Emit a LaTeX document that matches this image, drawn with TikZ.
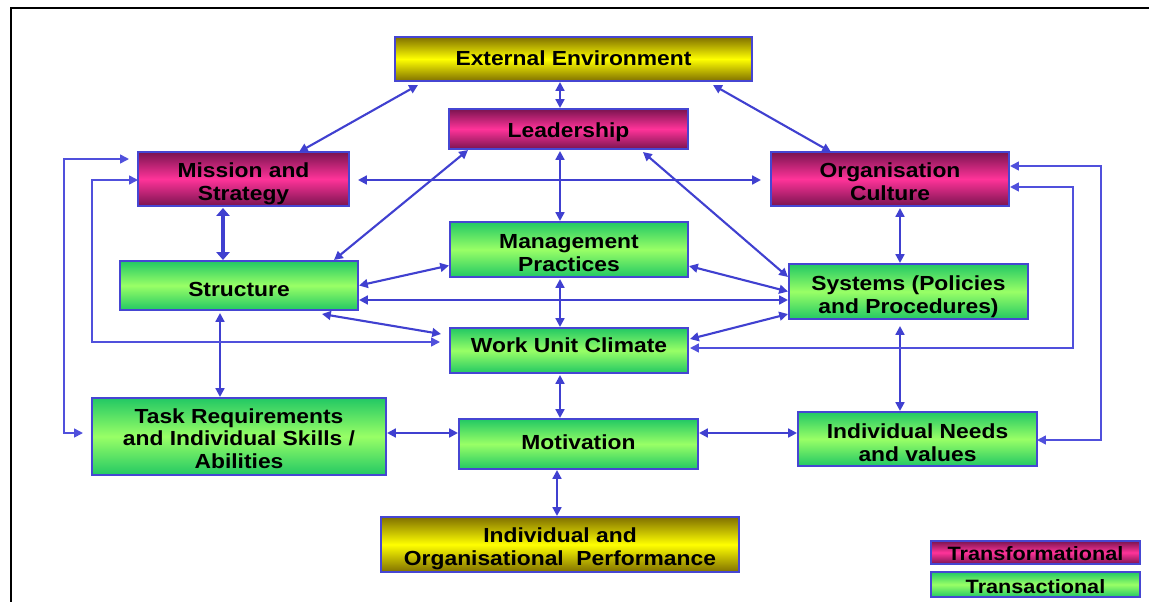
\documentclass[tikz,border=0pt]{standalone}
\usepackage{fontspec}
\newfontfamily\labfont[FakeStretch=1.12]{Liberation Sans}
\usetikzlibrary{arrows.meta,calc}
\definecolor{ablue}{RGB}{64,64,208}
\definecolor{fblue}{RGB}{80,80,220}
\definecolor{bborder}{RGB}{70,70,210}
\definecolor{magdark}{RGB}{122,20,80}
\definecolor{magmid}{RGB}{255,51,153}
\definecolor{grndark}{RGB}{34,200,100}
\definecolor{grnmid}{RGB}{153,255,102}
\definecolor{yeldark}{RGB}{128,112,0}
\definecolor{yelmid}{RGB}{255,255,0}
\tikzset{
  box/.style={draw=bborder, line width=0.7pt, inner sep=0pt, outer sep=0pt, align=center,
    font={\labfont\bfseries\fontsize{11.6}{12.9}\selectfont}, text=black},
  tf/.style={box, top color=magdark, bottom color=magdark, middle color=magmid},
  tr/.style={box, top color=grndark, bottom color=grndark, middle color=grnmid},
  yel/.style={box, top color=yeldark, bottom color=yeldark, middle color=yelmid},
  legfont/.style={font={\labfont\bfseries\fontsize{11}{12}\selectfont}},
  arr/.style={draw=ablue, line width=1.2pt, <->, >={Triangle[length=5pt,width=5pt]}},
  thickarr/.style={arr, line width=1.8pt, >={Triangle[length=4.5pt,width=7.5pt]}},
  fb/.style={draw=fblue, line width=0.9pt, <->, >={Triangle[length=5pt,width=5pt]}},
  frame/.style={draw=black, line width=1.2pt}
}
% name, style, x1, y1, x2, y2, number of lines, vertical text offset (px), text
\newcommand\mybox[9]{%
  \pgfmathsetmacro\cx{(#3+#5)/2}\pgfmathsetmacro\cy{(#4+#6)/2}%
  \pgfmathsetmacro\ww{(#5-#3)*0.02}\pgfmathsetmacro\hh{(#6-#4)*0.02}%
  \pgfmathsetmacro\rr{-(8.3-(#7-1)*12.9)/2-(#8)*0.5669}%
  \node[#2, minimum width=\ww cm, minimum height=\hh cm] (#1) at (\cx,\cy)
    {\raisebox{\rr pt}[0pt][0pt]{\begin{tabular}[t]{@{}c@{}}#9\end{tabular}}};}
\begin{document}
\begin{tikzpicture}[x=0.02cm,y=-0.02cm]
\useasboundingbox (0,0) rectangle (1149,602);
\draw[frame] (1149,8) -- (11,8) -- (11,602);

\mybox{ext}{yel}{395}{37}{752}{81}{1}{-1.2}{External Environment}
\mybox{lead}{tf}{449}{109}{688}{149}{1}{1}{Leadership}
\mybox{mis}{tf}{138}{152}{349}{206}{2}{2.5}{Mission and\\Strategy}
\mybox{cul}{tf}{771}{152}{1009}{206}{2}{3}{Organisation\\Culture}
\mybox{str}{tr}{120}{261}{358}{310}{1}{4}{Structure}
\mybox{man}{tr}{450}{222}{688}{277}{2}{3.5}{Management\\Practices}
\mybox{sys}{tr}{789}{264}{1028}{319}{2}{3}{Systems (Policies\\and Procedures)}
\mybox{wuc}{tr}{450}{328}{688}{373}{1}{-5}{Work Unit Climate}
\mybox{task}{tr}{92}{398}{386}{475}{3}{2}{Task Requirements\\and Individual Skills /\\Abilities}
\mybox{mot}{tr}{459}{419}{698}{469}{1}{-1.8}{Motivation}
\mybox{ind}{tr}{798}{412}{1037}{466}{2}{3.5}{Individual Needs\\and values}
\mybox{perf}{yel}{381}{517}{739}{572}{2}{2.5}{Individual and\\Organisational\ \ Performance}
\mybox{lg1}{tf,legfont}{931}{541}{1140}{564}{1}{1.2}{Transformational}
\mybox{lg2}{tr,legfont}{931}{572}{1140}{597}{1}{1.5}{Transactional}

% connectors
\draw[arr] ([shift={(55.5,0)}]mis.north) -- ([shift={(23,4)}]ext.south west);
\draw[arr] ([shift={(-13.5,1)}]ext.south) -- ([shift={(-8.5,-1)}]lead.north);
\draw[arr] ([shift={(-39,4)}]ext.south east) -- ([shift={(-59,0)}]cul.north);
\draw[arr] ([shift={(-8.5,2)}]lead.south) -- ([shift={(-9,-1)}]man.north);
\draw[arr] ([shift={(19,1)}]lead.south west) -- ([shift={(-24,-1)}]str.north east);
\draw[arr] ([shift={(-45,3)}]lead.south east) -- ([shift={(-1,-14.5)}]sys.west);
\draw[arr] ([shift={(9,1)}]mis.east) -- ([shift={(-10,1)}]cul.west);
\draw[thickarr] ([shift={(-20.5,2)}]mis.south) -- ([shift={(-16,-1)}]str.north);
\draw[arr] ([shift={(10,2)}]cul.south) -- ([shift={(-8.5,-1)}]sys.north);
\draw[arr] ([shift={(1,0)}]str.east) -- ([shift={(-1,16)}]man.west);
\draw[arr] ([shift={(1,14.5)}]str.east) -- ([shift={(-1,8.5)}]sys.west);
\draw[arr] ([shift={(-36,4)}]str.south east) -- ([shift={(-9,-16.5)}]wuc.west);
\draw[arr] ([shift={(-9,2)}]man.south) -- ([shift={(-9,-1)}]wuc.north);
\draw[arr] ([shift={(1,16.5)}]man.east) -- ([shift={(-1,0)}]sys.west);
\draw[arr] ([shift={(2,-11.5)}]wuc.east) -- ([shift={(-1,22.5)}]sys.west);
\draw[arr] ([shift={(-9,2)}]wuc.south) -- ([shift={(-18.5,-1)}]mot.north);
\draw[arr] ([shift={(-19,3)}]str.south) -- ([shift={(-19,-1)}]task.north);
\draw[arr] ([shift={(1,-3.5)}]task.east) -- ([shift={(-1,-11)}]mot.west);
\draw[arr] ([shift={(1,-11)}]mot.east) -- ([shift={(-1,-6)}]ind.west);
\draw[arr] ([shift={(-8.5,7)}]sys.south) -- ([shift={(-17.5,-1)}]ind.north);
\draw[arr] ([shift={(-21.5,1)}]mot.south) -- ([shift={(-3,-1)}]perf.north);

% feedback brackets
\draw[fb] ([shift={(-9,-20)}]mis.west) -- ++(-65,0) |- ([shift={(-9,-3.5)}]task.west);
\draw[fb] ([shift={(0,1)}]mis.west) -- ++(-46,0) |- ([shift={(-10,-8.5)}]wuc.west);
\draw[fb] ([shift={(1,-13)}]cul.east) -- ++(91,0) |- ([shift={(0,1)}]ind.east);
\draw[fb] ([shift={(1,8)}]cul.east) -- ++(63,0) |- ([shift={(2,-2.5)}]wuc.east);
\end{tikzpicture}
\end{document}
